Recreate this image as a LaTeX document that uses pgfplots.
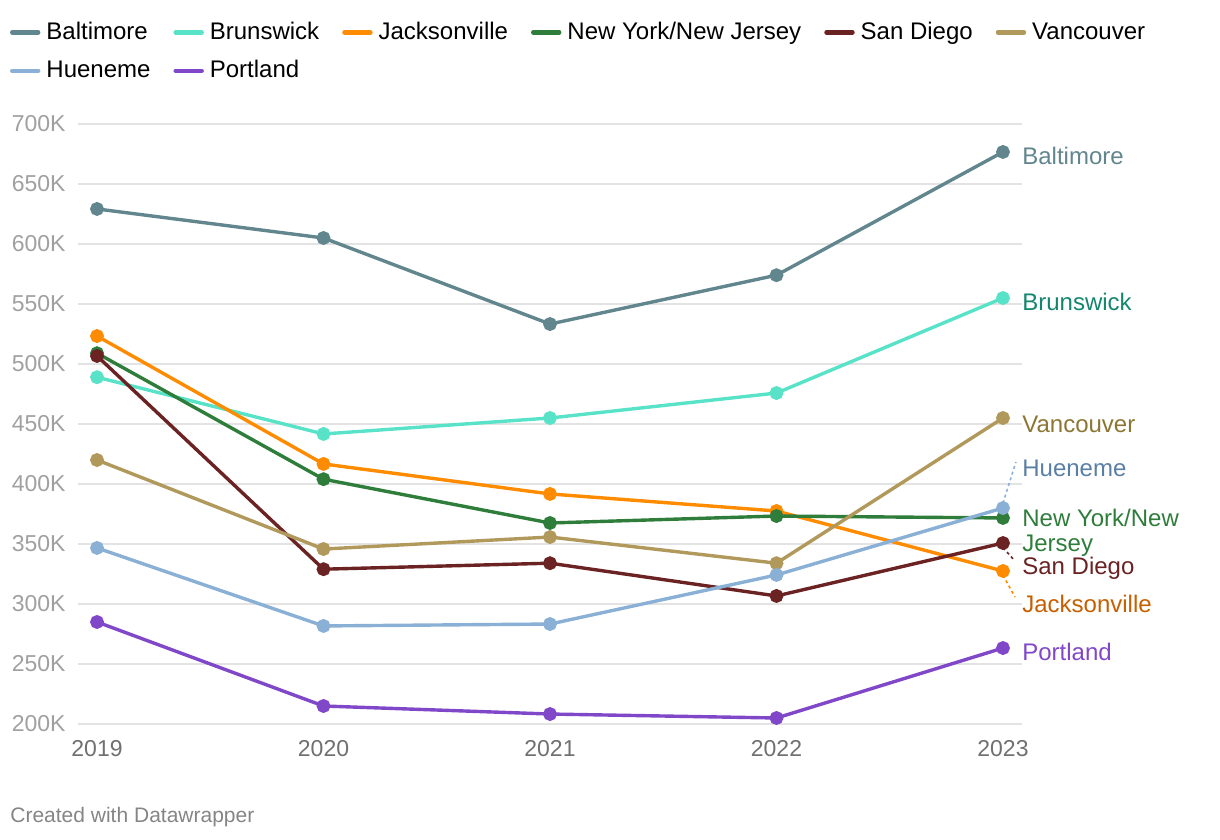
\documentclass[border=0pt]{standalone}
\usepackage{pgfplots}
\pgfplotsset{compat=1.18}
\usepackage{fontspec}
\setmainfont{Liberation Sans}
\definecolor{cBal}{HTML}{62868D}
\definecolor{cBru}{HTML}{58E3C8}
\definecolor{cBruL}{HTML}{15866E}
\definecolor{cJac}{HTML}{FF8C00}
\definecolor{cJacL}{HTML}{C75F00}
\definecolor{cNY}{HTML}{2F7D3B}
\definecolor{cSD}{HTML}{6B2222}
\definecolor{cVan}{HTML}{B0995A}
\definecolor{cVanL}{HTML}{8C7633}
\definecolor{cHue}{HTML}{8BB0D6}
\definecolor{cHueL}{HTML}{5A7FA5}
\definecolor{cPor}{HTML}{8048C9}
\definecolor{gridc}{HTML}{E3E3E3}
\definecolor{ytc}{HTML}{A0A0A0}
\definecolor{xtc}{HTML}{707070}
\begin{document}
\begin{tikzpicture}[x=1pt,y=1pt]
\path[use as bounding box] (0,0) rectangle (610,420);
\begin{axis}[
  at={(39pt,58pt)}, anchor=south west,
  scale only axis, width=472pt, height=300pt,
  xmin=2018.916, xmax=2023.084, ymin=200, ymax=700,
  clip=false,
  /pgf/number format/assume math mode=true,
  axis line style={draw=none},
  major tick length=0pt,
  tick style={draw=none},
  xtick={2019,2020,2021,2022,2023},
  xticklabels={2019,2020,2021,2022,2023},
  ytick={200,250,...,700},
  yticklabel={\pgfmathprintnumber{\tick}K},
  ymajorgrids,
  grid style={color=gridc, line width=0.7pt},
  yticklabel style={font=\fontsize{11.5}{13}\selectfont, text=ytc, anchor=east, inner sep=0pt, xshift=-6pt},
  xticklabel style={font=\fontsize{11.5}{13}\selectfont, text=xtc, anchor=north, inner sep=0pt, yshift=-8pt},
  every axis plot/.append style={line width=1.7pt, mark=*, mark size=2.6pt, mark options={solid}},
  legend columns=6,
  legend cell align=left,
  legend image code/.code={\draw[line width=2.2pt, line cap=round, mark=none] (1pt,0pt) -- (14pt,0pt);},
  legend style={at={(axis description cs:-0.072,1.173)}, anchor=north west, draw=none, fill=none,
    inner sep=0pt, outer sep=0pt, font=\fontsize{12}{14}\selectfont, row sep=7pt,
    nodes={inner sep=1pt},
    /tikz/every odd column/.append style={column sep=2pt},
    /tikz/every even column/.append style={column sep=10.5pt}},
]
\addplot[cBal] coordinates {(2019,629.2) (2020,605) (2021,533.3) (2022,574) (2023,676.7)};
\addlegendentry{Baltimore}
\addplot[cBru] coordinates {(2019,489) (2020,441.7) (2021,455) (2022,475.8) (2023,555)};
\addlegendentry{Brunswick}
\addplot[cJac] coordinates {(2019,523.3) (2020,416.7) (2021,391.7) (2022,377.5) (2023,327.5)};
\addlegendentry{Jacksonville}
\addplot[cNY] coordinates {(2019,509) (2020,404) (2021,367.5) (2022,373.3) (2023,371.7)};
\addlegendentry{New York/New Jersey}
\addplot[cSD] coordinates {(2019,506.7) (2020,329) (2021,334) (2022,306.7) (2023,350.8)};
\addlegendentry{San Diego}
\addplot[cVan] coordinates {(2019,420) (2020,345.8) (2021,355.8) (2022,334) (2023,455)};
\addlegendentry{Vancouver}
\addplot[cHue] coordinates {(2019,346.7) (2020,281.7) (2021,283.3) (2022,324.2) (2023,380)};
\addlegendentry{Hueneme}
\addplot[cPor] coordinates {(2019,285) (2020,215) (2021,208.3) (2022,205) (2023,263.3)};
\addlegendentry{Portland}
% connectors
\addplot[cHue, mark=none, line width=0.8pt, dash pattern=on 1.5pt off 1.5pt, forget plot] coordinates {(2023,384) (2023.057,418.3)};
\addplot[cSD, mark=none, line width=0.8pt, dash pattern=on 1.5pt off 1.5pt, forget plot] coordinates {(2023,347) (2023.049,336.7)};
\addplot[cJac, mark=none, line width=0.8pt, dash pattern=on 1.5pt off 1.5pt, forget plot] coordinates {(2023,324) (2023.053,305.8)};
% labels
\begin{scope}[every node/.style={anchor=west, inner sep=0pt, font=\fontsize{12}{14}\selectfont, xshift=9.5pt}]
\node[text=cBal] at (axis cs:2023,673.3) {Baltimore};
\node[text=cBruL] at (axis cs:2023,551.7) {Brunswick};
\node[text=cVanL] at (axis cs:2023,450) {Vancouver};
\node[text=cHueL] at (axis cs:2023,413.3) {Hueneme};
\node[text=cNY] at (axis cs:2023,371.7) {New York/New};
\node[text=cNY] at (axis cs:2023,348.3) {Jersey};
\node[text=cSD] at (axis cs:2023,330) {San Diego};
\node[text=cJacL] at (axis cs:2023,300) {Jacksonville};
\node[text=cPor] at (axis cs:2023,260) {Portland};
\end{scope}
\end{axis}
\node[anchor=west, inner sep=0pt, font=\fontsize{10.5}{12}\selectfont, text=xtc!85] at (5pt,11.5pt) {Created with Datawrapper};
\end{tikzpicture}
\end{document}
